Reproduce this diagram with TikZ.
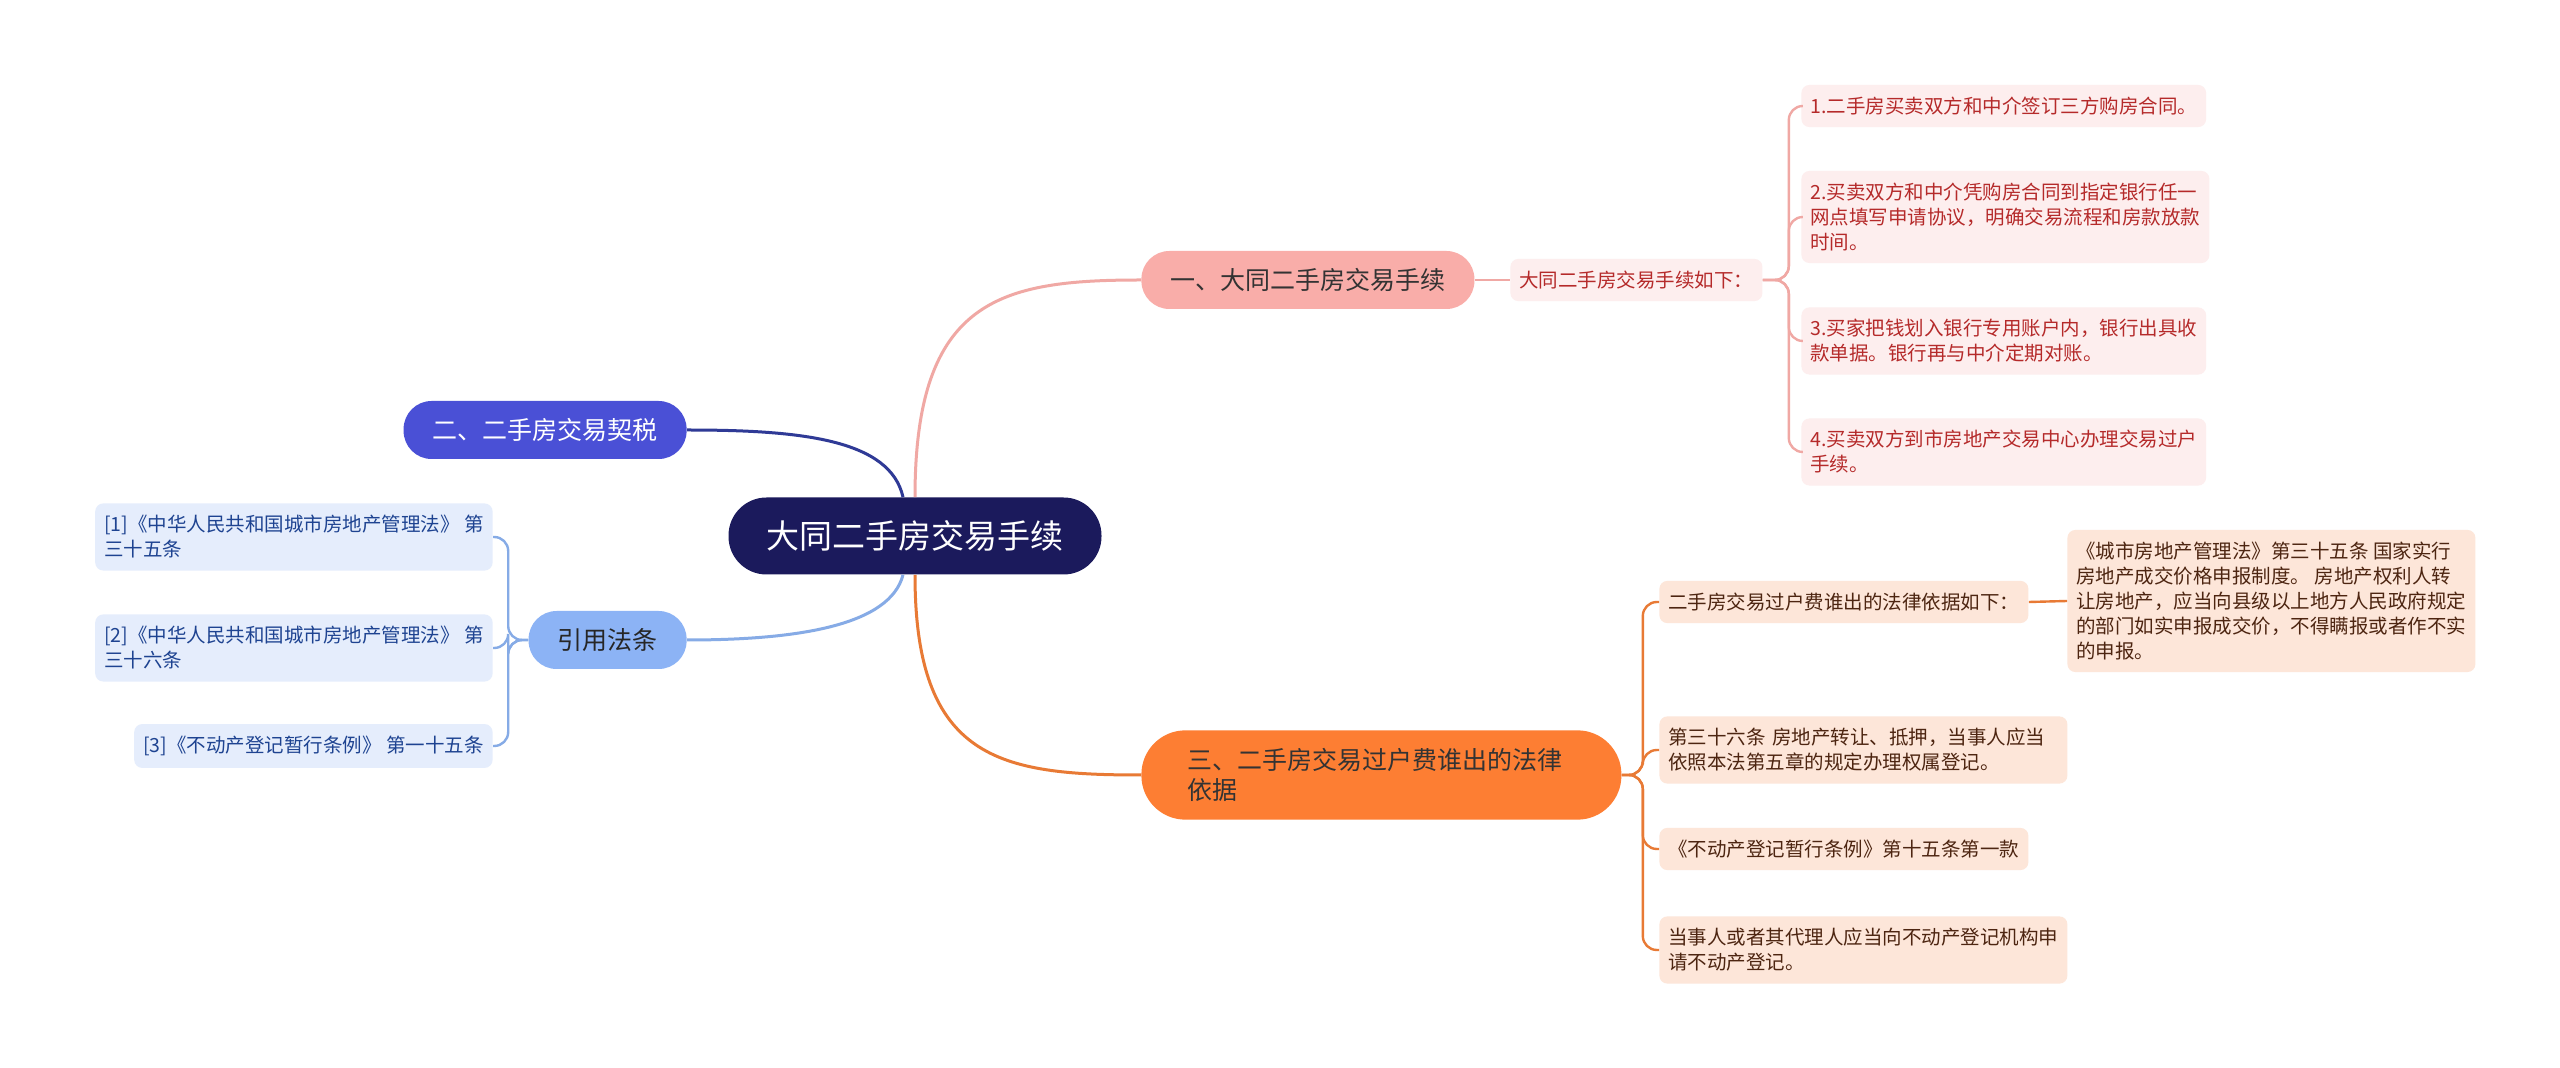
\documentclass[tikz,border=0pt]{standalone}
\usepackage{fontspec}
\newfontfamily\cjkfont{Noto Sans CJK SC}
\usepackage{tikz}

\definecolor{navyfill}{HTML}{1B1A5C}
\definecolor{pinkfill}{HTML}{F9ADA9}
\definecolor{pinkline}{HTML}{F0A8A4}
\definecolor{pinkleaf}{HTML}{FDEEEE}
\definecolor{redtext}{HTML}{B52A2A}
\definecolor{violetfill}{HTML}{4A50D6}
\definecolor{violetline}{HTML}{2F3A96}
\definecolor{skyfill}{HTML}{8CB3F5}
\definecolor{skyline}{HTML}{86ABE6}
\definecolor{skyleaf}{HTML}{E5EDFC}
\definecolor{skytext}{HTML}{1E4391}
\definecolor{orangefill}{HTML}{FD7E33}
\definecolor{orangeline}{HTML}{E87A35}
\definecolor{peachleaf}{HTML}{FDE6D9}
\definecolor{browntext}{HTML}{4D2511}

\begin{document}
\begin{tikzpicture}[x=0.5pt,y=-0.5pt,
  pill/.style={rounded corners=14pt,minimum height=29pt,inner xsep=14.5pt,
    font=\cjkfont\fontsize{12.5}{15}\selectfont},
  leaf/.style={rounded corners=4pt,inner xsep=4.5pt,inner ysep=6pt,align=left,
    font=\cjkfont\fontsize{9.75}{12.5}\selectfont},
  mainline/.style={line width=1.5pt},
  subline/.style={line width=1.2pt,rounded corners=7pt}]
\fill[white] (0,0) rectangle (2560,1068);
\useasboundingbox (0,0) rectangle (2560,1068);

% centre and main branches
\node[fill=navyfill,text=white,rounded corners=19pt,minimum height=38.5pt,inner xsep=19pt,
  font=\cjkfont\fontsize{16.5}{19}\selectfont] (ctr) at (915,536) {大同二手房交易手续};
\node[pill,fill=pinkfill,text=black!80,anchor=west] (n1) at (1141,280) {一、大同二手房交易手续};
\node[pill,fill=violetfill,text=white,anchor=east] (n2) at (687,430) {二、二手房交易契税};
\node[pill,fill=skyfill,text=black!85,anchor=east] (cite) at (687,640) {引用法条};
\node[pill,fill=orangefill,text=black!80,anchor=west,align=left,rounded corners=22pt,
  inner xsep=23pt,inner ysep=9pt,text width=194pt] (n3) at (1141,775) {三、二手房交易过户费谁出的法律\\依据};

\draw[mainline,pinkline] (ctr.north) .. controls +(0,-198) and +(-141,0) .. (n1.west);
\draw[mainline,violetline] ([xshift=-6pt]ctr.north) .. controls +(-13,-58) and +(113,0) .. (n2.east);
\draw[mainline,skyline] ([xshift=-6pt]ctr.south) .. controls +(-13,50) and +(113,0) .. (cite.east);
\draw[mainline,orangeline] (ctr.south) .. controls +(0,185) and +(-141,0) .. (n3.west);

% branch one
\node[leaf,fill=pinkleaf,text=redtext,anchor=west] (sub1) at (1510,280) {大同二手房交易手续如下：};
\draw[subline,pinkline] (n1.east) -- (sub1.west);
\foreach \i/\y/\t in {1/106/{1.二手房买卖双方和中介签订三方购房合同。},
  2/217/{2.买卖双方和中介凭购房合同到指定银行任一\\网点填写申请协议，明确交易流程和房款放款\\时间。},
  3/341/{3.买家把钱划入银行专用账户内，银行出具收\\款单据。银行再与中介定期对账。},
  4/452/{4.买卖双方到市房地产交易中心办理交易过户\\手续。}}{
  \node[leaf,fill=pinkleaf,text=redtext,anchor=west] (c\i) at (1801,\y) {\t};
  \draw[subline,pinkline] (sub1.east) -- ++(26,0) |- (c\i.west);
}

% branch three
\node[leaf,fill=peachleaf,text=browntext,anchor=west] (s0) at (1659,602) {二手房交易过户费谁出的法律依据如下：};
\node[leaf,fill=peachleaf,text=browntext,anchor=west] (s0c) at (2067,601)
  {《城市房地产管理法》第三十五条 国家实行\\房地产成交价格申报制度。 房地产权利人转\\让房地产，应当向县级以上地方人民政府规定\\的部门如实申报成交价，不得瞒报或者作不实\\的申报。};
\draw[subline,orangeline] (s0.east) -- (s0c.west);
\node[leaf,fill=peachleaf,text=browntext,anchor=west,text width=195pt] (s1) at (1659,750)
  {第三十六条 房地产转让、抵押，当事人应当\\依照本法第五章的规定办理权属登记。};
\node[leaf,fill=peachleaf,text=browntext,anchor=west] (s2) at (1659,849) {《不动产登记暂行条例》第十五条第一款};
\node[leaf,fill=peachleaf,text=browntext,anchor=west] (s3) at (1659,950)
  {当事人或者其代理人应当向不动产登记机构申\\请不动产登记。};
\foreach \i in {0,1,2,3}
  \draw[subline,orangeline] (n3.east) -- ++(21,0) |- (s\i.west);

% cited articles
\node[leaf,fill=skyleaf,text=skytext,anchor=east] (r1) at (493,537) {[1]《中华人民共和国城市房地产管理法》 第\\三十五条};
\node[leaf,fill=skyleaf,text=skytext,anchor=east] (r2) at (493,648) {[2]《中华人民共和国城市房地产管理法》 第\\三十六条};
\node[leaf,fill=skyleaf,text=skytext,anchor=east] (r3) at (493,746) {[3]《不动产登记暂行条例》 第一十五条};
\foreach \i in {1,2,3}
  \draw[subline,skyline] (cite.west) -- ++(-20,0) |- (r\i.east);
\end{tikzpicture}
\end{document}
